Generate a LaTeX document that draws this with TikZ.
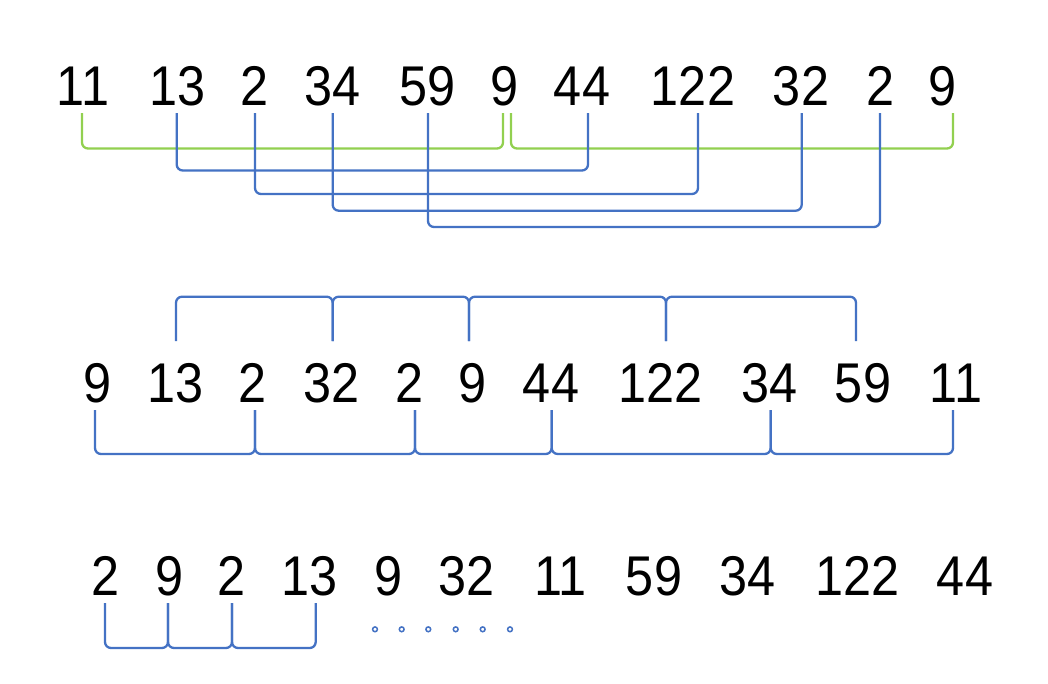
\documentclass[tikz,border=0pt]{standalone}
\usepackage{fontspec}
\setmainfont[FakeStretch=0.9]{Liberation Sans}
\usetikzlibrary{calc}
\definecolor{brblue}{RGB}{68,114,196}
\definecolor{brgreen}{RGB}{146,208,80}
\tikzset{
  num/.style={anchor=base,inner sep=0pt,font=\fontsize{56}{60}\selectfont,text=black},
  bbr/.style={draw=brblue,line width=2.3pt,rounded corners=6pt},
  gbr/.style={draw=brgreen,line width=2.3pt,rounded corners=6pt},
  dotc/.style={draw=brblue,line width=1.5pt}
}
\begin{document}
\begin{tikzpicture}[x=1pt,y=-1pt]
\useasboundingbox[fill=white] (0,0) rectangle (1048,683);
% row 1
\node[num] (a1) at (83,105) {11};
\node[num] (a2) at (178,105) {13};
\node[num] (a3) at (255,105) {2};
\node[num] (a4) at (333,105) {34};
\node[num] (a5) at (428,105) {59};
\node[num] (a6) at (505,105) {9};
\node[num] (a7) at (582,105) {44};
\node[num] (a8) at (693,105) {122};
\node[num] (a9) at (801,105) {32};
\node[num] (a10) at (880,105) {2};
\node[num] (a11) at (942,105) {9};
% row 2
\node[num] (b1) at (97.5,402) {9};
\node[num] (b2) at (176,402) {13};
\node[num] (b3) at (253,402) {2};
\node[num] (b4) at (331.5,402) {32};
\node[num] (b5) at (410,402) {2};
\node[num] (b6) at (473,402) {9};
\node[num] (b7) at (551,402) {44};
\node[num] (b8) at (660.5,402) {122};
\node[num] (b9) at (769.5,402) {34};
\node[num] (b10) at (863,402) {59};
\node[num] (b11) at (956,402) {11};
% row 3
\node[num] (c1) at (106,595) {2};
\node[num] (c2) at (170,595) {9};
\node[num] (c3) at (232,595) {2};
\node[num] (c4) at (310,595) {13};
\node[num] (c5) at (388.5,595) {9};
\node[num] (c6) at (466.5,595) {32};
\node[num] (c7) at (560.5,595) {11};
\node[num] (c8) at (654,595) {59};
\node[num] (c9) at (747.5,595) {34};
\node[num] (c10) at (857.5,595) {122};
\node[num] (c11) at (965,595) {44};

% row 1 brackets (green)
\draw[gbr] ($(a1.base)+(-1,8)$) -- ++(0,35.5) -| ($(a6.base)+(-2,8)$);
\draw[gbr] ($(a6.base)+(6,8)$) -- ++(0,35.5) -| ($(a11.base)+(11,8)$);
% row 1 brackets (blue)
\draw[bbr] ($(a2.base)+(-1.3,8)$) -- ++(0,57.5) -| ($(a7.base)+(6,8)$);
\draw[bbr] ($(a3.base)+(0,8)$) -- ++(0,81) -| ($(a8.base)+(5,8)$);
\draw[bbr] ($(a4.base)+(-0.3,8)$) -- ++(0,97.7) -| ($(a9.base)+(0.7,8)$);
\draw[bbr] ($(a5.base)+(0,8)$) -- ++(0,114) -| ($(a10.base)+(0,8)$);

% row 2 top brackets
\draw[bbr] ($(b2.base)+(0,-61)$) -- ++(0,-44.3) -| ($(b4.base)+(1.2,-61)$);
\draw[bbr] ($(b4.base)+(1.2,-61)$) -- ++(0,-44.3) -| ($(b6.base)+(-4,-61)$);
\draw[bbr] ($(b6.base)+(-4,-61)$) -- ++(0,-44.3) -| ($(b8.base)+(5.5,-61)$);
\draw[bbr] ($(b8.base)+(5.5,-61)$) -- ++(0,-44.3) -| ($(b10.base)+(-7,-61)$);
% row 2 bottom brackets
\draw[bbr] ($(b1.base)+(-2.5,8)$) -- ++(0,44) -| ($(b3.base)+(2,8)$);
\draw[bbr] ($(b3.base)+(2,8)$) -- ++(0,44) -| ($(b5.base)+(5,8)$);
\draw[bbr] ($(b5.base)+(5,8)$) -- ++(0,44) -| ($(b7.base)+(0.7,8)$);
\draw[bbr] ($(b7.base)+(0.7,8)$) -- ++(0,44) -| ($(b9.base)+(1.2,8)$);
\draw[bbr] ($(b9.base)+(1.2,8)$) -- ++(0,44) -| ($(b11.base)+(-3,8)$);

% row 3 brackets
\draw[bbr] ($(c1.base)+(-1,8)$) -- ++(0,45) -| ($(c2.base)+(-2,8)$);
\draw[bbr] ($(c2.base)+(-2,8)$) -- ++(0,45) -| ($(c3.base)+(0,8)$);
\draw[bbr] ($(c3.base)+(0,8)$) -- ++(0,45) -| ($(c4.base)+(5.7,8)$);

% dots
\foreach \x in {375,401.7,428.3,455.7,482.7,510}
  \draw[dotc] (\x,629.3) circle (2.4);
\end{tikzpicture}
\end{document}
